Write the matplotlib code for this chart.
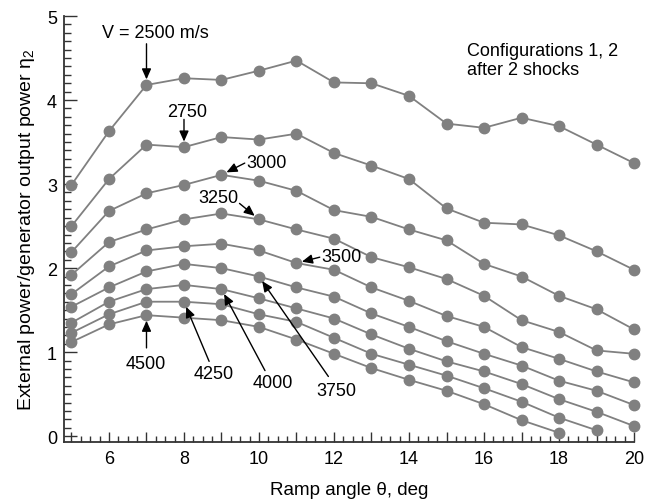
import numpy as np
import matplotlib
matplotlib.use('Agg')
import matplotlib.pyplot as plt
from matplotlib.ticker import MultipleLocator, FuncFormatter

plt.rcParams['font.family'] = ['Liberation Sans', 'DejaVu Sans']
plt.rcParams['mathtext.fontset'] = 'custom'
plt.rcParams['mathtext.rm'] = 'Liberation Sans'
plt.rcParams['mathtext.it'] = 'Liberation Sans'

# Ramp angle, deg
theta = [5, 6, 7, 8, 9, 10, 11, 12, 13, 14, 15, 16, 17, 18, 19, 20]

# power ratio for each flight speed (m/s)
v2500 = [2.99, 3.63, 4.18, 4.26, 4.24, 4.35, 4.47, 4.21, 4.20, 4.05, 3.72, 3.67, 3.79, 3.69, 3.47, 3.25]
v2750 = [2.50, 3.06, 3.47, 3.44, 3.56, 3.53, 3.60, 3.37, 3.22, 3.06, 2.71, 2.54, 2.52, 2.39, 2.20, 1.98]
v3000 = [2.19, 2.68, 2.89, 2.99, 3.11, 3.04, 2.92, 2.69, 2.61, 2.46, 2.33, 2.05, 1.90, 1.67, 1.51, 1.27]
v3250 = [1.92, 2.31, 2.46, 2.58, 2.65, 2.58, 2.46, 2.35, 2.13, 2.01, 1.87, 1.67, 1.38, 1.24, 1.02, 0.98]
v3500 = [1.69, 2.02, 2.21, 2.26, 2.29, 2.21, 2.06, 1.98, 1.77, 1.61, 1.43, 1.30, 1.06, 0.92, 0.77, 0.64]
v3750 = [1.54, 1.77, 1.96, 2.05, 2.00, 1.90, 1.77, 1.66, 1.46, 1.30, 1.13, 0.98, 0.84, 0.66, 0.54, 0.37]
v4000 = [1.35, 1.60, 1.75, 1.80, 1.75, 1.64, 1.52, 1.40, 1.21, 1.04, 0.89, 0.77, 0.62, 0.44, 0.29, 0.12]
v4250 = [1.23, 1.45, 1.60, 1.60, 1.57, 1.45, 1.36, 1.17, 0.98, 0.85, 0.72, 0.57, 0.41, 0.22, 0.07]
v4500 = [1.12, 1.33, 1.44, 1.41, 1.38, 1.30, 1.15, 0.98, 0.81, 0.67, 0.54, 0.38, 0.19, 0.04]

series = [v2500, v2750, v3000, v3250, v3500, v3750, v4000, v4250, v4500]

fig = plt.figure(figsize=(6.57, 5.02), dpi=100)
ax = fig.add_axes([0.0974, 0.1175, 0.8676, 0.8485])

for s in series:
    ax.plot(theta[:len(s)], s, color='#808080', lw=1.3, marker='o',
            ms=7.5, mfc='#808080', mec='#808080', clip_on=False, zorder=3)

ax.set_xlim(4.8, 20)
ax.set_ylim(-0.07, 5)

for side in ['top', 'right']:
    ax.spines[side].set_visible(False)
for side in ['left', 'bottom']:
    ax.spines[side].set_linewidth(1.3)
    ax.spines[side].set_color('#333333')

ax.xaxis.set_major_locator(MultipleLocator(1))
ax.xaxis.set_minor_locator(MultipleLocator(0.25))
ax.xaxis.set_major_formatter(FuncFormatter(lambda v, p: '%d' % v if int(round(v)) % 2 == 0 else ''))
ax.yaxis.set_major_locator(MultipleLocator(1))
ax.yaxis.set_minor_locator(MultipleLocator(0.1))
ax.tick_params(which='both', direction='in', color='#333333', width=1.0)
ax.tick_params(axis='x', which='major', length=7, labelsize=13, pad=6)
ax.tick_params(axis='x', which='minor', length=4)
ax.tick_params(axis='y', which='major', length=9, labelsize=13, pad=5)
ax.tick_params(axis='y', which='minor', length=5)

ax.set_xlabel('Ramp angle θ, deg', fontsize=13.5, labelpad=10)
ax.set_ylabel(r'External power/generator output power $\mathregular{\eta_2}$', fontsize=14, labelpad=7)

aprops = dict(arrowstyle='-|>,head_length=0.45,head_width=0.2', color='k',
              lw=1.0, mutation_scale=14, shrinkA=0, shrinkB=4)

# label text position, arrow tail, series, index of pointed point
labels = [
    ('V = 2500 m/s', (7.25, 4.80), (7.0, 4.67), v2500, 2),
    ('2750', (8.09, 3.87), (8.0, 3.77), v2750, 3),
    ('3000', (10.19, 3.26), (9.62, 3.25), v3000, 4),
    ('3250', (8.93, 2.84), (9.48, 2.77), v3250, 5),
    ('3500', (12.21, 2.14), (11.62, 2.13), v3500, 6),
    ('4500', (6.99, 0.86), (7.0, 1.05), v4500, 2),
    ('4250', (8.78, 0.74), (8.67, 0.89), v4250, 3),
    ('4000', (10.37, 0.64), (10.16, 0.78), v4000, 4),
    ('3750', (12.07, 0.54), (11.85, 0.71), v3750, 5),
]
for txt, tpos, tail, s, i in labels:
    ax.text(tpos[0], tpos[1], txt, fontsize=13, ha='center', va='center', zorder=5)
    ax.annotate('', xy=(theta[i], s[i]), xytext=tail, arrowprops=aprops, zorder=5)

ax.text(15.55, 4.69, 'Configurations 1, 2\nafter 2 shocks', fontsize=13,
        ha='left', va='top', linespacing=1.15)

fig.savefig('out.png', dpi=100)
